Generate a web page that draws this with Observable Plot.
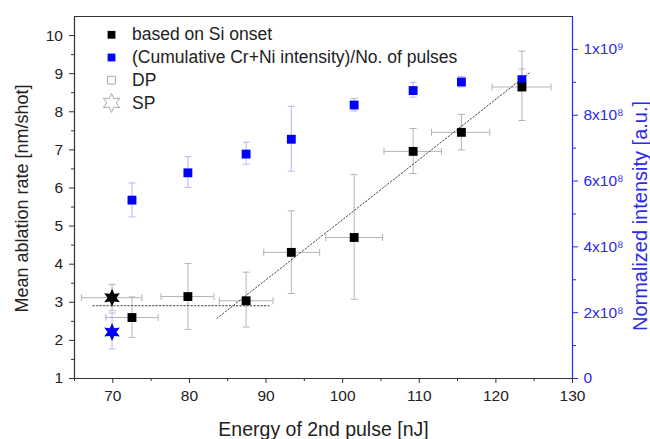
<!DOCTYPE html>
<html>
<head>
<meta charset="utf-8">
<script src="https://cdn.jsdelivr.net/npm/d3@7"></script>
<script src="https://cdn.jsdelivr.net/npm/@observablehq/plot@0.6"></script>
<style>
  html, body { margin: 0; padding: 0; background: #fff; }
  #chart svg { display: block; }
</style>
</head>
<body>
<div id="chart"></div>
<script>
// ---- Data ----
const energy = [72.5, 79.8, 87.4, 93.3, 101.5, 109.2, 115.5, 123.4];
// ablation rate based on Si onset [nm/shot]
const siRate   = [2.60, 3.15, 3.04, 4.31, 4.70, 6.96, 7.46, 8.65];
const siRateLo = [2.08, 2.29, 2.35, 3.23, 3.08, 6.38, 7.00, 7.77];
const siRateHi = [3.14, 4.02, 3.79, 5.40, 6.35, 7.56, 7.93, 9.59];
const energyLo = [69.1, 76.3, 83.9, 89.7, 97.8, 105.4, 111.6, 119.5];
const energyHi = [75.9, 83.2, 90.9, 97.0, 105.2, 112.9, 119.2, 127.2];
// cumulative Cr+Ni intensity / No. of pulses [a.u.]
const cumInt   = [5.42e8, 6.25e8, 6.82e8, 7.27e8, 8.31e8, 8.75e8, 9.01e8, 9.08e8];
const cumIntLo = [4.91e8, 5.81e8, 6.51e8, 6.30e8, 8.13e8, 8.55e8, 8.86e8, 8.80e8];
const cumIntHi = [5.94e8, 6.74e8, 7.18e8, 8.27e8, 8.51e8, 9.00e8, 9.18e8, 9.41e8];
// single pulse (SP) reference
const spEnergy = [69.9];
const spEnergyLo = [65.9];
const spEnergyHi = [73.8];
const spRate = [3.12];
const spRateLo = [2.78];
const spRateHi = [3.47];
const spInt = [1.41e8];
const spIntLo = [0.90e8];
const spIntHi = [1.99e8];
// dotted guide lines
const flatLineX = [67.4, 90.4];
const flatLineY = [2.91, 2.91];
const slopeLineX = [83.6, 124.5];
const slopeLineY = [2.58, 9.04];
// axes
const xDomain = [65, 130];
const leftDomain = [1, 10.5];
const rightMax = 1.1e9;
const xTicks = [70, 80, 90, 100, 110, 120, 130];
const xMinor = [65, 75, 85, 95, 105, 115, 125];
const leftTicks = [1, 2, 3, 4, 5, 6, 7, 8, 9, 10];
const leftMinor = [1.5, 2.5, 3.5, 4.5, 5.5, 6.5, 7.5, 8.5, 9.5];
const rightTicks = [0, 2e8, 4e8, 6e8, 8e8, 1e9];
const rightTickLabels = ["0", "2x10⁸", "4x10⁸", "6x10⁸", "8x10⁸", "1x10⁹"];
const rightMinor = [1e8, 3e8, 5e8, 7e8, 9e8];
const legendLabels = ["based on Si onset", "(Cumulative Cr+Ni intensity)/No. of pulses", "DP", "SP"];

// map right-axis intensity into left-scale units
const toLeft = v => leftDomain[0] + v / rightMax * (leftDomain[1] - leftDomain[0]);

const si = energy.map((e, i) => ({x: e, y: siRate[i], ylo: siRateLo[i], yhi: siRateHi[i], xlo: energyLo[i], xhi: energyHi[i]}));
const cum = energy.map((e, i) => ({x: e, y: toLeft(cumInt[i]), ylo: toLeft(cumIntLo[i]), yhi: toLeft(cumIntHi[i])}));
const spB = spEnergy.map((e, i) => ({x: e, y: spRate[i], ylo: spRateLo[i], yhi: spRateHi[i], xlo: spEnergyLo[i], xhi: spEnergyHi[i]}));
const spC = spEnergy.map((e, i) => ({x: e, y: toLeft(spInt[i]), ylo: toLeft(spIntLo[i]), yhi: toLeft(spIntHi[i])}));
const flat = flatLineX.map((x, i) => ({x, y: flatLineY[i]}));
const slope = slopeLineX.map((x, i) => ({x, y: slopeLineY[i]}));

// custom symbols
const capH = {draw(ctx, size) { const w = Math.sqrt(size / Math.PI); ctx.moveTo(-w, 0); ctx.lineTo(w, 0); }};
const capV = {draw(ctx, size) { const w = Math.sqrt(size / Math.PI); ctx.moveTo(0, -w); ctx.lineTo(0, w); }};
const hexStar = {draw(ctx, size) {
  const R = Math.sqrt(size / Math.PI), r = R * 0.5;
  for (let k = 0; k < 12; k++) {
    const a = -Math.PI / 2 + k * Math.PI / 6;
    const rr = k % 2 === 0 ? R : r;
    const px = rr * Math.cos(a), py = rr * Math.sin(a);
    if (k === 0) ctx.moveTo(px, py); else ctx.lineTo(px, py);
  }
  ctx.closePath();
}};

const grayErr = "#b4b4b4";
const blueErr = "#b6b6ec";
const blue = "#0000ff";
const axisBlue = "#2a2af0";
const font = "'Liberation Sans', Arial, sans-serif";

function errMarks(data, color, withX) {
  const m = [
    Plot.ruleX(data, {x: "x", y1: "ylo", y2: "yhi", stroke: color, strokeWidth: 1}),
    Plot.dot(data, {x: "x", y: "ylo", symbol: capH, r: 3.5, stroke: color, fill: "none", strokeWidth: 1}),
    Plot.dot(data, {x: "x", y: "yhi", symbol: capH, r: 3.5, stroke: color, fill: "none", strokeWidth: 1})
  ];
  if (withX) m.push(
    Plot.ruleY(data, {y: "y", x1: "xlo", x2: "xhi", stroke: color, strokeWidth: 1}),
    Plot.dot(data, {x: "xlo", y: "y", symbol: capV, r: 3.5, stroke: color, fill: "none", strokeWidth: 1}),
    Plot.dot(data, {x: "xhi", y: "y", symbol: capV, r: 3.5, stroke: color, fill: "none", strokeWidth: 1})
  );
  return m;
}

const rowGap = 22.7;
const legendSymbols = [
  {symbol: "square", r: 4.4, fill: "#000", stroke: "none"},
  {symbol: "square", r: 4.4, fill: blue, stroke: "none"},
  {symbol: "square", r: 4.4, fill: "none", stroke: "#aaa"},
  {symbol: hexStar, r: 9.5, fill: "none", stroke: "#aaa"}
];
const legendMarks = legendLabels.flatMap((t, i) => [
  Plot.dot([t], {frameAnchor: "top-left", dx: 37, dy: 18.3 + i * rowGap, strokeWidth: 1, ...legendSymbols[i]}),
  Plot.text([t], {frameAnchor: "top-left", text: d => d, dx: 57.5, dy: 18.3 + i * rowGap, lineAnchor: "middle", textAnchor: "start", fontSize: 17.5, fill: "#222"})
]);

const chart = Plot.plot({
  width: 650,
  height: 439,
  marginLeft: 74,
  marginRight: 78,
  marginTop: 16,
  marginBottom: 61,
  style: {fontFamily: font, fontSize: "15.5px", color: "#222", background: "#fff"},
  x: {domain: xDomain},
  y: {domain: leftDomain},
  marks: [
    // frame lines
    Plot.ruleY([leftDomain[1]], {stroke: "#333", strokeWidth: 1.2}),
    Plot.ruleX([xDomain[0]], {stroke: "#333", strokeWidth: 1.2}),
    Plot.ruleY([leftDomain[0]], {stroke: "#333", strokeWidth: 1.2}),
    // x axis
    Plot.axisX({ticks: xTicks, tickSize: 5, tickPadding: 6, fontSize: 15.5, stroke: "#333", label: null, tickFormat: d => String(d)}),
    Plot.axisX({ticks: xMinor, tickSize: 3, stroke: "#333", tickFormat: () => "", label: null}),
    // left axis
    Plot.axisY({anchor: "left", ticks: leftTicks, tickSize: 5, tickPadding: 6.5, fontSize: 15.5, stroke: "#333", label: null, tickFormat: d => String(d)}),
    Plot.axisY({anchor: "left", ticks: leftMinor, tickSize: 3, stroke: "#333", tickFormat: () => "", label: null}),
    // right axis
    Plot.ruleX([xDomain[1]], {stroke: axisBlue, strokeWidth: 1.2}),
    Plot.axisY({anchor: "right", ticks: rightTicks.map(toLeft), tickSize: 5, tickPadding: 6, fontSize: 15.5, stroke: axisBlue, fill: axisBlue, color: axisBlue, label: null,
      tickFormat: d => rightTickLabels[rightTicks.map(toLeft).findIndex(v => Math.abs(v - d) < 1e-6)]}),
    Plot.axisY({anchor: "right", ticks: rightMinor.map(toLeft), tickSize: 3, stroke: axisBlue, tickFormat: () => "", label: null}),
    // axis titles
    Plot.text(["Mean ablation rate [nm/shot]"], {frameAnchor: "left", text: d => d, rotate: -90, dx: -52.5, dy: 1, textAnchor: "middle", lineAnchor: "middle", fontSize: 18, fill: "#222"}),
    Plot.text(["Normalized intensity [a.u.]"], {frameAnchor: "right", text: d => d, rotate: -90, dx: 68, dy: 18.5, textAnchor: "middle", lineAnchor: "middle", fontSize: 20, fill: axisBlue}),
    Plot.text(["Energy of 2nd pulse [nJ]"], {frameAnchor: "bottom", text: d => d, dy: 51, textAnchor: "middle", lineAnchor: "middle", fontSize: 19.5, fill: "#222"}),
    // error bars
    ...errMarks(cum, blueErr, false),
    ...errMarks(spC, blueErr, false),
    ...errMarks(si, grayErr, true),
    ...errMarks(spB, grayErr, true),
    // dotted guide lines
    Plot.line(flat, {x: "x", y: "y", stroke: "#444", strokeWidth: 1, strokeDasharray: "1.5,2"}),
    Plot.line(slope, {x: "x", y: "y", stroke: "#444", strokeWidth: 1, strokeDasharray: "1.5,2"}),
    // points
    Plot.dot(cum, {x: "x", y: "y", symbol: "square", r: 5, fill: blue, stroke: "none"}),
    Plot.dot(spC, {x: "x", y: "y", symbol: hexStar, r: 9, fill: blue, stroke: "none"}),
    Plot.dot(si, {x: "x", y: "y", symbol: "square", r: 5, fill: "#000", stroke: "none"}),
    Plot.dot(spB, {x: "x", y: "y", symbol: hexStar, r: 9, fill: "#000", stroke: "none"}),
    // legend
    ...legendMarks
  ]
});
document.getElementById("chart").appendChild(chart);
</script>
</body>
</html>
